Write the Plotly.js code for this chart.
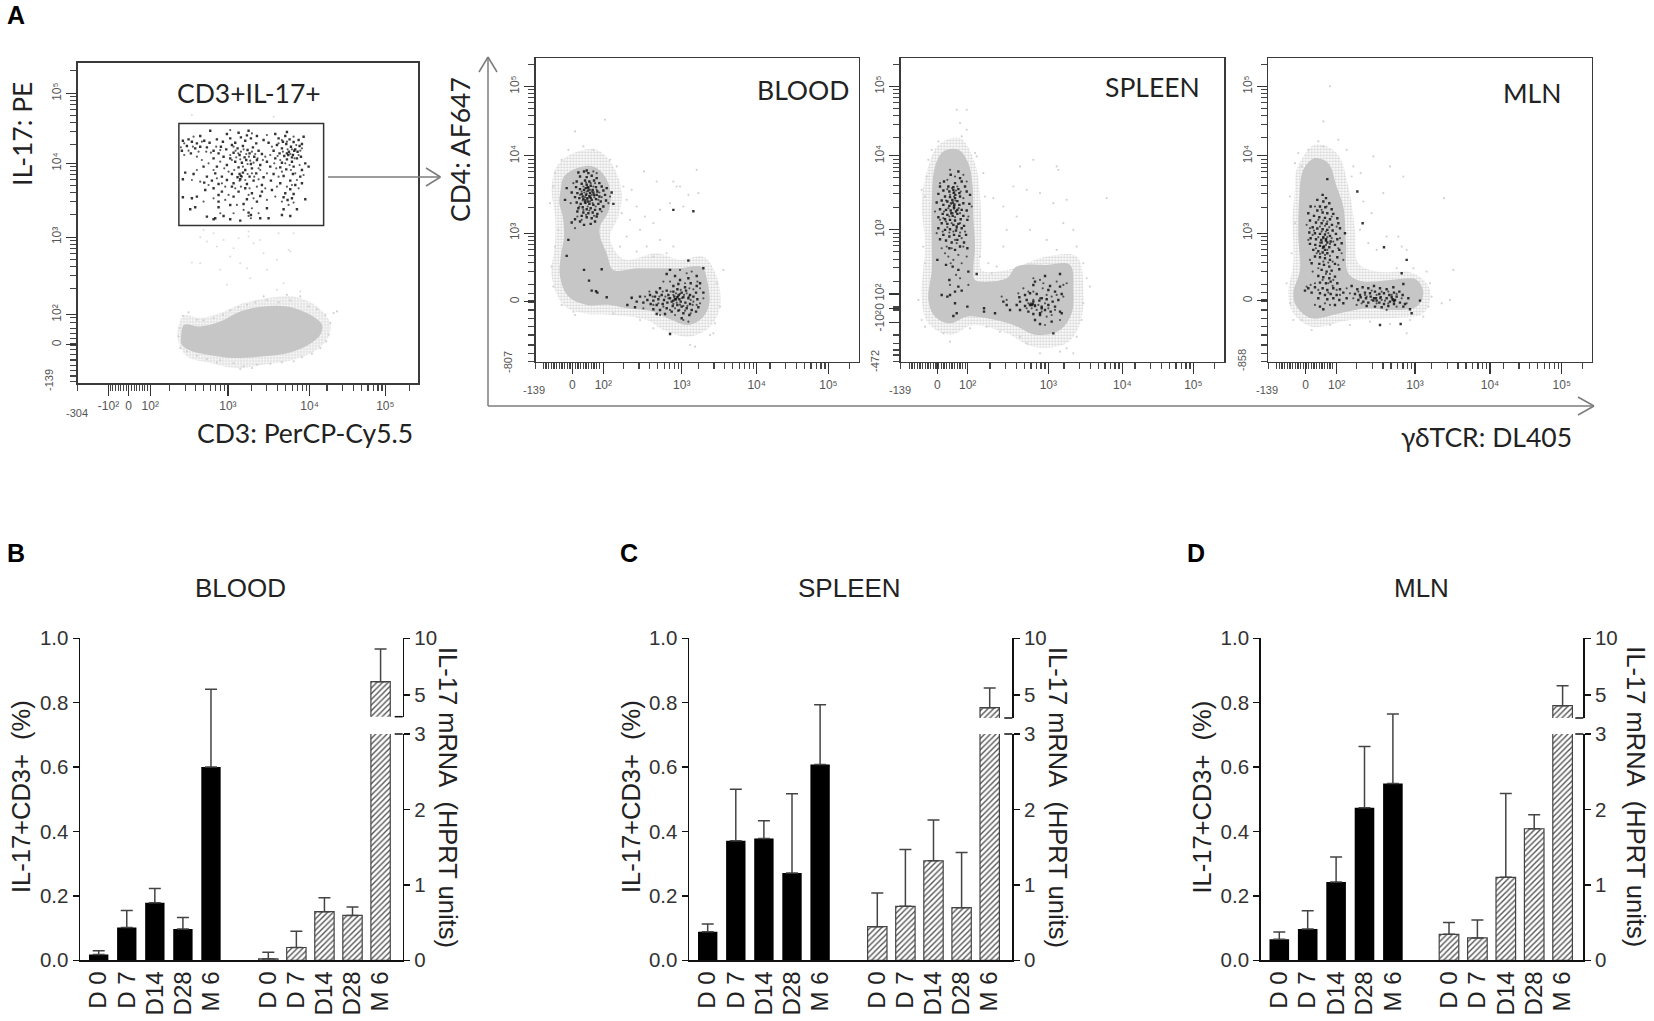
<!DOCTYPE html>
<html>
<head>
<meta charset="utf-8">
<script src="https://cdn.plot.ly/plotly-3.0.1.min.js"></script>
<style>html,body{margin:0;padding:0;background:#fff}</style>
</head>
<body>
<div id="chart" style="width:1654px;height:1021px"></div>
<script>
// bar panels B, C, D
const categories = ['D 0', 'D 7', 'D14', 'D28', 'M 6'];
const bloodPct = [0.018, 0.102, 0.179, 0.097, 0.600];
const bloodPctErr = [0.012, 0.053, 0.044, 0.036, 0.242];
const bloodMrna = [0.02, 0.17, 0.645, 0.595, 6.18];
const bloodMrnaErr = [0.086, 0.214, 0.185, 0.111, 2.88];
const spleenPct = [0.089, 0.371, 0.378, 0.271, 0.608];
const spleenPctErr = [0.024, 0.160, 0.055, 0.246, 0.186];
const spleenMrna = [0.446, 0.715, 1.32, 0.698, 3.88];
const spleenMrnaErr = [0.446, 0.755, 0.54, 0.732, 1.74];
const mlnPct = [0.065, 0.097, 0.243, 0.474, 0.549];
const mlnPctErr = [0.023, 0.057, 0.078, 0.190, 0.216];
const mlnMrna = [0.344, 0.296, 1.10, 1.744, 4.06];
const mlnMrnaErr = [0.156, 0.238, 1.11, 0.186, 1.76];

// flow plots, all in display channels [x, y]
const gateBox = [536, 323, 970, 630];
const gateDots = [[630,608],[600,592],[745,608],[680,598],[715,602],[770,592],[860,604],[825,598],[740,594],[910,590],[565,582],[855,592],[548,578],[575,575],[590,570],[612,578],[628,572],[650,582],[668,575],[690,585],[705,572],[722,588],[735,578],[752,585],[768,570],[790,580],[805,572],[835,585],[848,575],[868,582],[880,574],[895,580],[905,568],[560,562],[585,555],[600,560],[620,558],[640,548],[662,560],[678,552],[695,565],[712,555],[728,562],[742,550],[758,558],[775,548],[830,565],[845,555],[858,568],[872,560],[885,552],[898,562],[545,548],[572,540],[655,540],[670,530],[700,542],[718,535],[733,528],[748,540],[762,530],[785,538],[820,548],[838,540],[852,532],[866,545],[878,535],[892,545],[902,530],[640,525],[690,525],[705,515],[725,512],[738,520],[752,508],[770,520],[800,515],[825,525],[845,512],[860,522],[875,515],[890,525],[915,510],[925,500],[610,500],[650,500],[680,505],[715,498],[735,490],[755,495],[780,505],[810,500],[840,498],[858,492],[880,500],[905,490],[555,482],[580,478],[620,470],[645,480],[665,470],[695,478],[712,468],[728,482],[748,470],[768,480],[790,468],[820,478],[850,472],[878,478],[900,470],[548,462],[612,452],[635,458],[655,448],[680,460],[700,450],[720,462],[740,448],[760,458],[785,445],[812,458],[840,450],[870,458],[885,445],[905,450],[615,430],[640,435],[665,425],[695,440],[715,425],[735,435],[755,420],[785,425],[815,430],[855,420],[870,432],[880,418],[548,408],[575,405],[590,410],[655,415],[700,410],[740,402],[780,412],[850,408],[862,400],[875,405],[915,402],[570,372],[585,378],[655,395],[655,378],[690,385],[730,388],[770,395],[800,375],[850,372],[890,372],[620,350],[645,345],[670,352],[690,342],[720,338],[745,362],[752,355],[780,345],[805,345],[845,355],[870,352],[640,342],[718,478],[722,472],[860,540],[864,535],[875,528],[882,548]];
const gateDots2 = [[700,560],[706,548],[714,540],[722,545],[730,552],[738,538],[746,530],[755,545],[765,538],[772,525],[690,535],[695,520],[708,528],[720,522],[728,500],[742,508],[750,518],[760,512],[775,495],[788,520],[795,530],[810,535],[815,560],[822,510],[832,532],[840,520],[848,545],[855,510],[862,552],[870,538],[875,552],[883,525],[888,565],[895,535],[900,548],[845,580],[835,570],[860,575],[880,590],[905,555],[660,550],[648,560],[632,542],[618,545],[605,575],[595,545],[578,560],[565,548],[552,570],[542,558],[552,535],[590,530],[605,520],[625,510],[640,490],[660,515],[672,495],[685,485],[702,490],[718,458],[725,470],[735,460],[742,478],[755,480],[762,470],[775,462],[780,490],[800,480],[828,495],[835,470],[845,485],[868,505],[872,490],[885,480],[890,460],[898,505],[910,475],[650,465],[665,450],[675,440],[705,435],[722,440],[748,435],[770,440],[795,435],[830,440],[860,440],[875,445],[895,435],[625,445],[590,490],[600,455],[575,460],[685,415],[745,415],[760,405],[800,400],[825,410],[845,395],[865,385],[880,392],[610,395],[640,405],[675,400],[710,385],[730,370],[755,375],[775,360],[660,360],[700,360],[752,345],[745,352],[580,590],[690,610],[800,595],[755,600]];
const gateSpeckle = [[600,288],[640,300],[745,305],[780,280],[880,300],[600,210],[575,212],[650,260],[700,255],[745,290],[760,270],[865,250],[870,245],[790,240],[830,220],[750,165],[680,145],[850,150],[900,125],[830,130],[620,275],[690,230],[720,210],[800,190],[660,190],[740,195],[575,655],[820,650],[610,310],[670,280],[715,285],[835,300]];
const gateCore = [[543,-5],[552,25],[600,20],[660,35],[720,65],[790,80],[860,80],[930,55],[965,25],[960,-5],[925,-35],[870,-58],[790,-70],[700,-75],[640,-68],[570,-52],[545,-35]];
const gateHalo = [[532,-10],[550,52],[600,45],[660,60],[730,90],[800,105],[880,110],[950,80],[990,30],[985,-10],[950,-50],[880,-80],[790,-95],[710,-105],[630,-90],[560,-70]];
const gateEdge = [[548,52],[565,62],[590,40],[610,38],[640,45],[668,55],[690,68],[715,78],[740,85],[765,92],[800,100],[835,92],[870,98],[900,110],[925,80],[950,72],[975,55],[990,30],[1000,60],[985,-5],[978,-25],[960,-45],[935,-62],[905,-72],[880,-85],[845,-88],[810,-92],[770,-95],[730,-100],[700,-90],[660,-82],[620,-78],[590,-68],[560,-55],[540,-45],[535,-10],[538,15],[720,-108],[755,-105],[650,-88],[860,115],[790,110],[1010,65]];

const bloodDots = [[415,572],[432,575],[445,570],[420,560],[440,558],[455,562],[470,555],[435,548],[448,545],[462,548],[478,540],[410,545],[425,538],[440,535],[452,532],[468,528],[485,530],[500,525],[380,525],[408,528],[420,522],[432,520],[445,518],[458,520],[472,515],[490,518],[515,512],[395,512],[412,510],[425,508],[438,505],[450,510],[462,505],[478,500],[495,505],[375,490],[405,498],[418,495],[430,492],[442,495],[455,490],[468,492],[482,485],[498,488],[410,482],[422,478],[435,482],[448,478],[460,475],[475,478],[490,470],[415,465],[428,468],[440,462],[452,465],[465,460],[480,462],[520,478],[430,452],[445,450],[458,452],[472,448],[412,455],[425,442],[440,438],[455,435],[470,440],[405,432],[395,422],[420,425],[432,415],[452,418],[465,425],[385,370],[380,322],[432,280],[485,282],[447,248],[455,218],[468,216],[472,212],[500,198],[440,578],[437,525],[443,527],[449,500],[436,488],[444,485],[452,496],[428,500],[460,512],[470,505],[700,460],[760,456],
[745,308],[690,280],[680,268],[705,262],[745,255],[770,262],[790,285],[780,240],[720,250],[660,225],[650,212],[680,218],[700,232],[715,238],[735,228],[752,240],[770,232],[790,212],[630,205],[645,200],[665,205],[685,205],[700,215],[712,222],[725,212],[738,218],[750,205],[768,212],[600,200],[575,197],[622,190],[640,188],[655,192],[672,190],[690,195],[703,200],[716,205],[730,198],[745,195],[760,200],[590,185],[610,182],[632,178],[650,175],[668,178],[682,182],[695,185],[708,192],[722,185],[736,182],[750,178],[772,192],[562,175],[585,168],[640,162],[660,160],[680,165],[698,172],[712,175],[725,170],[740,165],[755,160],[775,168],[650,148],[675,148],[695,155],[715,158],[730,150],[748,145],[768,155],[725,135],[690,88],[705,192],[712,198],[718,192],[700,188]];
const bloodDots2 = [[430,530],[438,542],[446,525],[452,540],[460,530],[465,540],[425,515],[433,512],[440,508],[447,502],[455,515],[463,498],[470,520],[478,512],[420,505],[428,488],[437,480],[443,470],[450,485],[458,480],[467,470],[475,490],[485,498],[418,470],[430,460],[448,458],[462,442],[438,445],[425,430],[412,440],[445,528],[440,515],[450,520],[435,498],[442,492],[455,505],[400,540],[392,480],[505,480],[510,500],[485,455],[470,570],[460,575],[405,405],[700,205],[708,210],[714,200],[720,208],[726,196],[732,205],[740,210],[746,200],[752,190],[760,185],[692,215],[685,195],[676,200],[668,215],[658,200],[648,215],[638,200],[628,215],[615,200],[700,178],[710,182],[720,176],[730,172],[742,172],[758,175],[705,165],[718,160],[735,158],[752,150],[670,170],[655,180],[690,160],[705,145],[730,130],[745,125],[722,220],[735,240],[748,225],[760,222],[772,245],[780,225],[740,270],[755,275],[720,280],[690,245],[670,245],[780,180],[790,195],[770,175],[660,145],[640,175],[610,165],[575,195]];
const bloodCore = [[362,520],[372,560],[410,585],[460,590],[495,560],[512,510],[505,455],[480,410],[480,380],[500,330],[520,280],[590,285],[660,285],[720,285],[785,288],[803,240],[808,180],[790,140],[745,115],[690,132],[640,155],[560,165],[510,175],[440,175],[385,200],[360,260],[362,320],[372,380],[368,440],[358,480]];
const bloodHalo = [[335,520],[350,590],[400,630],[470,640],[520,590],[545,510],[535,440],[510,380],[530,330],[560,310],[650,330],[720,310],[790,320],[830,260],[840,170],[810,110],[745,80],[670,100],[620,130],[520,145],[430,150],[370,175],[335,260],[345,360],[345,440]];
const bloodEdge = [[340,530],[330,480],[345,570],[365,610],[385,640],[405,695],[430,650],[460,640],[495,730],[510,610],[530,590],[550,530],[560,490],[545,450],[575,520],[612,575],[650,545],[700,545],[710,530],[745,505],[770,580],[775,510],[730,470],[720,530],[690,480],[660,460],[640,420],[600,400],[560,380],[620,350],[660,370],[700,350],[745,310],[790,290],[850,280],[830,240],[840,170],[825,120],[810,85],[765,50],[750,55],[690,90],[640,105],[820,90],[570,430],[590,470],[615,440],[540,350],[590,335],[640,320],[680,330],[600,130],[520,150],[400,155],[365,175],[340,230],[335,290],[345,350],[355,400],[405,145]];

const spleenDots = [[295,575],[272,565],[300,555],[252,545],[285,540],[305,545],[240,530],[265,530],[280,528],[295,522],[315,530],[250,518],[268,515],[282,512],[298,510],[320,515],[235,508],[255,500],[270,498],[285,495],[300,500],[330,505],[245,488],[262,485],[278,482],[292,486],[310,480],[230,482],[250,475],[268,472],[282,470],[298,475],[328,478],[240,462],[258,460],[272,458],[288,455],[305,460],[320,458],[248,448],[262,445],[278,442],[292,448],[310,442],[235,438],[255,432],[270,430],[285,428],[302,432],[322,430],[245,420],[262,418],[280,415],[295,418],[312,412],[235,405],[255,400],[270,402],[288,398],[305,405],[250,385],[268,380],[282,385],[298,382],[318,385],[240,372],[258,368],[275,362],[292,370],[312,362],[268,345],[285,340],[300,350],[322,345],[232,310],[258,295],[278,290],[295,280],[325,275],[350,268],[268,250],[295,230],[270,205],[245,205],[262,200],[285,215],[305,218],[322,170],[285,180],[290,150],[280,142],[372,165],[372,155],[405,150],[280,520],[286,505],[277,490],[283,476],[274,450],[290,410],[282,465],[292,460],
[600,268],[555,262],[525,245],[570,232],[600,230],[520,235],[478,198],[495,205],[510,210],[530,208],[545,195],[565,220],[585,215],[605,208],[480,185],[500,190],[520,185],[538,188],[560,192],[578,185],[595,190],[470,175],[495,172],[510,175],[525,172],[545,170],[565,175],[585,170],[600,155],[440,175],[430,185],[450,160],[480,160],[505,155],[520,148],[540,150],[555,160],[572,155],[525,130],[540,118],[575,125],[580,90],[605,150],[515,175],[518,178],[545,165],[540,145]];
const spleenDots2 = [[280,510],[270,505],[288,518],[276,525],[292,530],[262,522],[302,515],[310,495],[258,488],[272,480],[286,488],[296,465],[265,465],[252,455],[278,450],[300,450],[285,438],[268,440],[258,425],[275,420],[290,405],[262,408],[280,395],[300,392],[248,395],[268,392],[285,370],[260,350],[275,345],[310,350],[295,325],[265,320],[245,345],[320,320],[280,310],[255,330],[240,430],[225,455],[325,440],[335,470],[240,540],[262,550],[285,560],[310,565],[320,545],[270,580],[250,435],[300,420],[315,395],[230,390],[290,360],[305,375],[272,300],[305,300],[288,265],[270,235],[300,255],[325,235],[282,500],[274,478],[490,225],[505,215],[520,215],[548,225],[560,205],[575,200],[590,205],[610,200],[540,195],[555,180],[515,165],[500,165],[530,160],[545,155],[565,165],[585,160],[575,145],[560,140],[520,190],[505,180],[535,175],[475,210],[620,240],[590,245],[610,235],[550,240],[540,250],[520,255],[440,190],[425,200],[600,130],[555,115],[525,175],[512,180]];
const spleenCore = [[225,590],[250,635],[295,640],[325,600],[338,530],[340,440],[345,350],[340,280],[345,250],[440,255],[470,290],[560,295],[630,295],[640,220],[635,150],[600,100],[530,85],[460,115],[380,135],[320,140],[270,120],[225,140],[205,190],[215,280],[215,360],[215,480]];
const spleenHalo = [[205,590],[235,655],[300,675],[345,600],[360,500],[365,360],[365,280],[440,280],[560,320],[650,320],[670,220],[660,120],[620,60],[520,50],[440,90],[340,115],[270,85],[205,120],[185,190],[195,360],[185,480]];
const spleenEdge = [[200,560],[195,500],[185,520],[205,610],[215,640],[235,665],[290,760],[320,760],[305,680],[345,630],[350,620],[370,570],[375,500],[400,495],[430,350],[430,470],[520,610],[590,590],[595,580],[480,590],[460,530],[500,520],[540,510],[580,480],[620,490],[610,420],[640,400],[650,350],[470,440],[440,400],[510,400],[560,370],[590,340],[670,300],[680,255],[690,230],[670,180],[665,130],[650,80],[640,30],[620,45],[600,35],[540,30],[500,60],[480,80],[420,95],[380,110],[330,105],[270,65],[250,90],[195,110],[175,190],[185,130],[195,300],[190,350],[360,320],[385,300],[410,290],[395,270],[300,720],[320,700],[740,495]];

const mlnDots = [[262,552],[248,505],[258,495],[352,515],[232,490],[250,485],[268,480],[240,470],[256,468],[275,462],[212,470],[232,458],[248,452],[262,450],[280,448],[205,450],[222,442],[238,438],[255,436],[270,432],[292,435],[210,428],[228,422],[245,420],[260,418],[276,415],[295,420],[218,408],[232,404],[248,402],[262,400],[278,398],[300,405],[208,392],[225,390],[240,388],[255,386],[270,382],[288,388],[315,390],[212,375],[228,372],[244,370],[258,368],[272,365],[292,372],[210,358],[226,355],[240,352],[252,350],[268,348],[285,355],[305,360],[220,340],[235,336],[248,332],[262,330],[278,335],[298,340],[225,320],[240,318],[255,315],[270,310],[292,318],[215,300],[238,298],[252,295],[268,290],[285,298],[245,280],[260,275],[275,278],[298,282],[235,262],[250,258],[268,255],[285,260],[240,242],[258,240],[272,245],[292,240],[205,225],[225,228],[248,225],[262,220],[280,225],[300,222],[195,218],[215,212],[240,210],[255,205],[272,208],[290,205],[310,212],[235,195],[262,192],[280,195],[298,190],[320,195],[240,170],[250,162],[285,175],[310,180],[250,348],[255,340],[258,372],[250,378],[262,362],[245,362],[368,420],[432,348],[500,310],[485,270],
[335,232],[352,222],[368,228],[385,225],[402,232],[420,225],[440,222],[460,228],[490,238],[345,208],[360,205],[375,212],[390,210],[405,215],[418,208],[432,210],[448,205],[462,212],[478,215],[362,198],[378,195],[392,200],[408,195],[422,198],[440,195],[455,198],[470,200],[488,205],[505,195],[355,190],[370,185],[385,182],[400,188],[418,182],[432,178],[450,185],[465,190],[480,182],[495,178],[380,172],[405,170],[425,168],[445,172],[462,178],[490,170],[510,162],[420,115],[482,118],[515,150],[540,188],[402,195],[410,188],[458,192],[462,186]];
const mlnDots2 = [[235,430],[250,428],[262,425],[240,410],[255,412],[268,408],[245,395],[258,395],[265,390],[250,375],[262,378],[275,375],[235,378],[222,398],[218,385],[240,362],[258,355],[270,358],[280,365],[248,345],[262,340],[240,328],[255,325],[270,322],[228,345],[230,330],[250,305],[265,302],[278,305],[235,285],[258,268],[270,268],[248,250],[278,232],[290,220],[225,240],[212,235],[235,220],[265,212],[320,225],[330,210],[340,195],[355,215],[375,205],[395,218],[410,205],[425,215],[445,215],[455,205],[470,208],[485,195],[435,188],[445,180],[425,190],[395,190],[380,200],[365,180],[350,175],[300,205],[265,240],[280,250],[295,295],[305,330],[310,310],[295,345],[210,405],[205,370],[200,415],[260,470],[245,460],[225,470],[275,440],[290,410],[300,375],[210,310],[218,275],[200,230],[255,180],[270,175],[225,175],[420,195],[458,190],[470,170],[500,180],[440,160],[410,180]];
const mlnCore = [[190,580],[225,615],[265,600],[290,530],[310,470],[318,360],[325,270],[370,245],[450,250],[530,250],[550,210],[530,170],[450,160],[380,165],[300,150],[215,135],[170,170],[160,210],[180,280],[175,380],[178,500]];
const mlnHalo = [[170,580],[225,655],[290,630],[325,530],[345,400],[355,300],[410,275],[520,270],[570,220],[550,150],[450,135],[330,130],[215,110],[160,150],[145,210],[160,300],[158,440],[165,520]];
const mlnEdge = [[165,600],[185,590],[175,630],[205,640],[235,665],[250,650],[295,670],[320,640],[340,590],[335,560],[362,570],[400,620],[370,485],[395,450],[430,510],[450,590],[490,560],[475,380],[500,340],[440,380],[410,340],[385,360],[360,400],[485,350],[470,285],[520,285],[560,275],[570,240],[575,200],[565,170],[550,140],[510,130],[450,118],[390,125],[330,115],[270,115],[215,100],[185,130],[160,130],[150,180],[140,240],[155,330],[165,420],[150,500],[640,280],[630,190],[605,180],[612,495],[250,725],[270,830],[500,90]];

// tick helpers, biexponential ticks typed per decade
const yMinorOffsets = [-10, -22, -34, -48, -66, -88, -114, -154];
const xMinorOffsets = [-10, -22, -36, -52, -72, -96, -128, -175];
const dense = (a, b, s) => { const out = []; for (let v = a; v <= b; v += s) out.push(v); return out; };
const W = 1654, H = 1021;
const pxX = p => p / W;
const pxY = p => 1 - p / H;

const flowPanels = [
  { frame: [77.5, 62.5, 418, 383], xr: [232, 1253], yr: [-150, 813],
    cloud: [gateHalo, gateCore], edge: gateEdge, speckle: gateSpeckle, dots: gateDots, dots2: gateDots2,
    xt: [325, 385, 450, 683, 928, 1155], xl: ['-10²', '0', '10²', '10³', '10⁴', '10⁵'],
    xm: dense(330, 445, 8).concat([683, 928, 1155].flatMap(d => xMinorOffsets.map(o => d + o))).concat([232, 1228]),
    yt: [720, 510, 288, 55, -35], yl: ['10⁵', '10⁴', '10³', '10²', '0'],
    ym: [720, 510, 288].flatMap(d => yMinorOffsets.map(o => d + o)).concat(dense(-145, 50, 16)).concat([-33, -37, -30, 790]) },
  { frame: [535.7, 58, 858.7, 361.7], xr: [287, 1256], yr: [5, 915],
    cloud: [bloodHalo, bloodCore], edge: bloodEdge, dots: bloodDots, dots2: bloodDots2,
    xt: [397, 490, 725, 950, 1165], xl: ['0', '10²', '10³', '10⁴', '10⁵'],
    xm: dense(310, 485, 8).concat([725, 950, 1165].flatMap(d => xMinorOffsets.map(o => d + o))).concat([287, 1228]),
    yt: [830, 622, 390, 185], yl: ['10⁵', '10⁴', '10³', '0'],
    ym: [830, 622, 390].flatMap(d => yMinorOffsets.map(o => d + o)).concat([210, 160, 135, 110, 85, 55, 30, 188, 182, 6, 895]) },
  { frame: [900.7, 58, 1224, 361.7], xr: [122, 1092], yr: [5, 915],
    cloud: [spleenHalo, spleenCore], edge: spleenEdge, dots: spleenDots, dots2: spleenDots2,
    xt: [232, 323, 565, 787, 1000], xl: ['0', '10²', '10³', '10⁴', '10⁵'],
    xm: dense(148, 320, 8).concat([565, 787, 1000].flatMap(d => xMinorOffsets.map(o => d + o))).concat([122, 1063]),
    yt: [830, 622, 400, 208, 165, 122], yl: ['10⁵', '10⁴', '10³', '10²', '0', '-10²'],
    ym: [830, 622, 400].flatMap(d => yMinorOffsets.map(o => d + o)).concat([160, 162, 168, 170, 85, 60, 40, 25, 6, 895]) },
  { frame: [1268.3, 58, 1591.7, 361.7], xr: [85, 1055], yr: [5, 915],
    cloud: [mlnHalo, mlnCore], edge: mlnEdge, dots: mlnDots, dots2: mlnDots2,
    xt: [197, 290, 525, 750, 965], xl: ['0', '10²', '10³', '10⁴', '10⁵'],
    xm: dense(110, 285, 8).concat([525, 750, 965].flatMap(d => xMinorOffsets.map(o => d + o))).concat([85, 1028]),
    yt: [830, 622, 390, 188], yl: ['10⁵', '10⁴', '10³', '0'],
    ym: [830, 622, 390].flatMap(d => yMinorOffsets.map(o => d + o)).concat([213, 160, 135, 110, 85, 55, 30, 191, 185, 6, 895]) },
];

const barPanels = [
  { L: 80, R: 402.7, mid: 240, c0: 98.7, c1: 268.3, pitch: 28.07, brk: 716.7, low: 3.09, pct: bloodPct, pctErr: bloodPctErr, mrna: bloodMrna, mrnaErr: bloodMrnaErr },
  { L: 689, R: 1012.3, mid: 849, c0: 707.7, c1: 877.3, pitch: 28.1, brk: 718, low: 2.97, pct: spleenPct, pctErr: spleenPctErr, mrna: spleenMrna, mrnaErr: spleenMrnaErr },
  { L: 1260.7, R: 1583.3, mid: 1421, c0: 1279.3, c1: 1449, pitch: 28.4, brk: 718, low: 2.97, pct: mlnPct, pctErr: mlnPctErr, mrna: mlnMrna, mrnaErr: mlnMrnaErr },
];

const traces = [];
const layout = {
  width: W, height: H, margin: { l: 0, r: 0, t: 0, b: 0, pad: 0 }, autosize: false,
  paper_bgcolor: '#fff', plot_bgcolor: 'rgba(0,0,0,0)', showlegend: false,
  font: { family: 'Liberation Sans, Arial, sans-serif', color: '#222' },
  shapes: [], annotations: [],
};

let xn = 0, yn = 0;
const nextX = () => { xn += 1; return xn === 1 ? '' : String(xn); };
const nextY = () => { yn += 1; return yn === 1 ? '' : String(yn); };

// flow cytometry panels
flowPanels.forEach((p, idx) => {
  const xs = nextX(), ys = nextY();
  const tickFont = { size: 12, color: '#555', family: 'Liberation Sans, Arial, sans-serif' };
  layout['xaxis' + xs] = {
    domain: [pxX(p.frame[0]), pxX(p.frame[2])], range: p.xr, anchor: 'y' + ys,
    showgrid: false, zeroline: false, showline: true, mirror: true, linecolor: '#3a3a3a', linewidth: 1.5,
    tickmode: 'array', tickvals: p.xt, ticktext: p.xl, ticks: 'outside', ticklen: 11, tickwidth: 1.2, tickcolor: '#333',
    tickfont: tickFont, tickangle: 0,
    minor: { tickmode: 'array', tickvals: p.xm, ticks: 'outside', ticklen: 6, tickwidth: 1.1, tickcolor: '#444', showgrid: false },
  };
  layout['yaxis' + ys] = {
    domain: [pxY(p.frame[3]), pxY(p.frame[1])], range: p.yr, anchor: 'x' + xs,
    showgrid: false, zeroline: false, showline: true, mirror: true, linecolor: '#3a3a3a', linewidth: 1.5,
    tickmode: 'array', tickvals: p.yt, ticktext: p.yl, ticks: 'outside', ticklen: 10, tickwidth: 1.2, tickcolor: '#333',
    tickfont: tickFont, tickangle: -90,
    minor: { tickmode: 'array', tickvals: p.ym, ticks: 'outside', ticklen: 6, tickwidth: 1.1, tickcolor: '#444', showgrid: false },
  };
  const ax = { xaxis: 'x' + xs, yaxis: 'y' + ys, hoverinfo: 'skip' };
  const closed = pts => pts.concat([pts[0]]);
  const halo = closed(p.cloud[0]), core = closed(p.cloud[1]);
  // outer ring is stippled, the core is solid grey
  traces.push({ ...ax, type: 'scatter', mode: 'lines', x: halo.map(d => d[0]), y: halo.map(d => d[1]),
    fill: 'toself', fillcolor: 'rgba(255,255,255,0)', line: { width: 0, shape: 'spline', smoothing: 1, color: '#fff' },
    fillpattern: { shape: '.', fgcolor: '#d6d6d6', bgcolor: '#fff', size: 3, solidity: 0.45, fillmode: 'replace' } });
  traces.push({ ...ax, type: 'scatter', mode: 'lines', x: core.map(d => d[0]), y: core.map(d => d[1]),
    fill: 'toself', fillcolor: '#c6c6c6', line: { width: 0, shape: 'spline', smoothing: 1, color: '#c6c6c6' } });
  traces.push({ ...ax, type: 'scatter', mode: 'markers', x: p.edge.map(d => d[0]), y: p.edge.map(d => d[1]),
    marker: { size: 2.2, color: '#d2d2d2' } });
  if (p.speckle) {
    traces.push({ ...ax, type: 'scatter', mode: 'markers', x: p.speckle.map(d => d[0]), y: p.speckle.map(d => d[1]),
      marker: { size: 2, color: '#dcdcdc' } });
  }
  traces.push({ ...ax, type: 'scatter', mode: 'markers', x: p.dots2.map(d => d[0]), y: p.dots2.map(d => d[1]),
    marker: { size: 2.2, color: '#333', opacity: 0.8 } });
  traces.push({ ...ax, type: 'scatter', mode: 'markers', x: p.dots.map(d => d[0]), y: p.dots.map(d => d[1]),
    marker: { size: 2.4, color: '#111', symbol: 'square', opacity: 0.85 } });
  if (idx === 0) {
    layout.shapes.push({ type: 'rect', xref: 'x' + xs, yref: 'y' + ys, x0: gateBox[0], x1: gateBox[2], y0: gateBox[1], y1: gateBox[3],
      line: { color: '#333', width: 1.5 } });
  }
});

// bars
barPanels.forEach(p => {
  const xa = nextX(), ya = nextY(), xb = nextX(), yb = nextY(), yc = nextY();
  const top = 638.3, zero = 960.3, three = 734;
  const catAxis = {
    type: 'category', categoryorder: 'array', categoryarray: categories, showgrid: false, zeroline: false,
    showline: true, linecolor: '#111', linewidth: 1.5, ticks: '', tickangle: -90,
    tickfont: { size: 24, color: '#222' }, tickmode: 'array', tickvals: categories, ticktext: categories,
  };
  layout['xaxis' + xa] = { ...catAxis, domain: [pxX(p.L), pxX(p.mid)], anchor: 'y' + ya,
    range: [(p.L - p.c0) / p.pitch, (p.mid - p.c0) / p.pitch] };
  layout['xaxis' + xb] = { ...catAxis, domain: [pxX(p.mid), pxX(p.R)], anchor: 'y' + yb,
    range: [(p.mid - p.c1) / p.pitch, (p.R - p.c1) / p.pitch] };
  const valAxis = {
    showgrid: false, zeroline: false, showline: true, linecolor: '#111', linewidth: 1.5,
    ticks: 'outside', ticklen: 6, tickwidth: 1.5, tickcolor: '#111', tickfont: { size: 20.5, color: '#333' },
  };
  layout['yaxis' + ya] = { ...valAxis, domain: [pxY(zero), pxY(top)], range: [0, 1], anchor: 'x' + xa,
    tickmode: 'array', tickvals: [0, 0.2, 0.4, 0.6, 0.8, 1], ticktext: ['0.0', '0.2', '0.4', '0.6', '0.8', '1.0'] };
  layout['yaxis' + yb] = { ...valAxis, domain: [pxY(zero), pxY(three)], range: [0, 3], anchor: 'x' + xb, side: 'right',
    tickmode: 'array', tickvals: [0, 1, 2, 3], ticktext: ['0', '1', '2', '3'] };
  layout['yaxis' + yc] = { ...valAxis, domain: [pxY(p.brk), pxY(top)], range: [p.low, 10], anchor: 'x' + xb, side: 'right',
    tickmode: 'array', tickvals: [5, 10], ticktext: ['5', '10'] };
  const errStyle = { type: 'data', symmetric: false, visible: true, color: '#444', thickness: 1.5, width: 6 };
  const hatch = { color: '#fff', line: { color: '#444', width: 1.2 },
    pattern: { shape: '/', fgcolor: '#555', bgcolor: '#fff', size: 4, solidity: 0.35, fillmode: 'replace' } };
  traces.push({ type: 'bar', xaxis: 'x' + xa, yaxis: 'y' + ya, x: categories, y: p.pct, width: 0.69,
    marker: { color: '#000', line: { width: 0 } }, error_y: { ...errStyle, array: p.pctErr, arrayminus: [0, 0, 0, 0, 0] } });
  traces.push({ type: 'bar', xaxis: 'x' + xb, yaxis: 'y' + yb, x: categories, y: p.mrna, width: 0.69,
    marker: hatch, error_y: { ...errStyle, array: p.mrnaErr.slice(0, 4).concat([0]), arrayminus: [0, 0, 0, 0, 0] } });
  traces.push({ type: 'bar', xaxis: 'x' + xb, yaxis: 'y' + yc, x: categories.slice(4), y: p.mrna.slice(4), width: 0.69,
    marker: hatch, error_y: { ...errStyle, array: p.mrnaErr.slice(4), arrayminus: [0] } });
  // little inward ticks either side of the axis break
  [p.brk, three].forEach(yy => layout.shapes.push(line(p.R - 8, yy, p.R, yy, '#111', 1.5)));
});

function line(x0, y0, x1, y1, color, width) {
  return { type: 'line', xref: 'paper', yref: 'paper', x0: pxX(x0), x1: pxX(x1), y0: pxY(y0), y1: pxY(y1),
    line: { color: color, width: width } };
}

// grey arrows
const arrowGrey = '#7c7c7c';
[[328, 177, 440, 177], [426, 168, 440.5, 177], [426, 186, 440.5, 177],
 [488, 57, 488, 406], [479, 72, 488, 57], [497, 72, 488, 57],
 [488, 406, 1594, 406], [1578, 397, 1594, 406], [1578, 415, 1594, 406]]
  .forEach(s => layout.shapes.push(line(s[0], s[1], s[2], s[3], arrowGrey, 1.5)));

function note(text, x, y, size, opts) {
  layout.annotations.push(Object.assign({ text: text, xref: 'paper', yref: 'paper', x: pxX(x), y: pxY(y),
    xanchor: 'center', yanchor: 'middle', showarrow: false, font: { size: size, color: '#222', family: 'Liberation Sans, Arial, sans-serif' } }, opts || {}));
}
const lato = s => ({ size: s, color: '#222', family: 'Lato, sans-serif' });
const bold = { size: 25, color: '#000', family: 'Liberation Sans, Arial, sans-serif', weight: 700 };

note('A', 16, 15, 25, { font: bold });
note('B', 16, 553, 25, { font: bold });
note('C', 629, 553, 25, { font: bold });
note('D', 1196, 553, 25, { font: bold });
note('BLOOD', 241, 588, 26);
note('SPLEEN', 849, 588, 26);
note('MLN', 1421, 588, 26);

note('IL-17: PE', 22, 134, 26.5, { font: lato(26.5), textangle: -90 });
note('CD3+IL-17+', 249, 93, 26.5, { font: lato(26.5) });
note('CD3: PerCP-Cy5.5', 305, 433, 26.5, { font: lato(26.5) });
note('CD4: AF647', 460, 149, 26.5, { font: lato(26.5), textangle: -90 });
note('BLOOD', 803, 90, 26.5, { font: lato(26.5) });
note('SPLEEN', 1152, 87, 26.5, { font: lato(26.5) });
note('MLN', 1532, 93, 26.5, { font: lato(26.5) });
note('γδTCR: DL405', 1486, 437, 26.5, { font: lato(26.5) });

const smallTick = { size: 11, color: '#555', family: 'Liberation Sans, Arial, sans-serif' };
note('-304', 77, 413, 11, { font: smallTick });
note('-139', 49, 380, 11, { font: smallTick, textangle: -90 });
note('-807', 508, 362, 11, { font: smallTick, textangle: -90 });
note('-139', 534, 390, 11, { font: smallTick });
note('-472', 875, 361, 11, { font: smallTick, textangle: -90 });
note('-139', 900, 390, 11, { font: smallTick });
note('-858', 1242, 360, 11, { font: smallTick, textangle: -90 });
note('-139', 1267, 390, 11, { font: smallTick });

[21, 631, 1201.5].forEach(x => note('IL-17+CD3+\u00A0\u00A0(%)', x, 797, 25.5, { textangle: -90 }));
[448, 1058, 1635.7].forEach(x => note('IL-17 mRNA\u00A0\u00A0(HPRT units)', x, 797, 25.5, { textangle: 90 }));

Plotly.newPlot('chart', traces, layout, { staticPlot: true, displayModeBar: false });
</script>
</body>
</html>
